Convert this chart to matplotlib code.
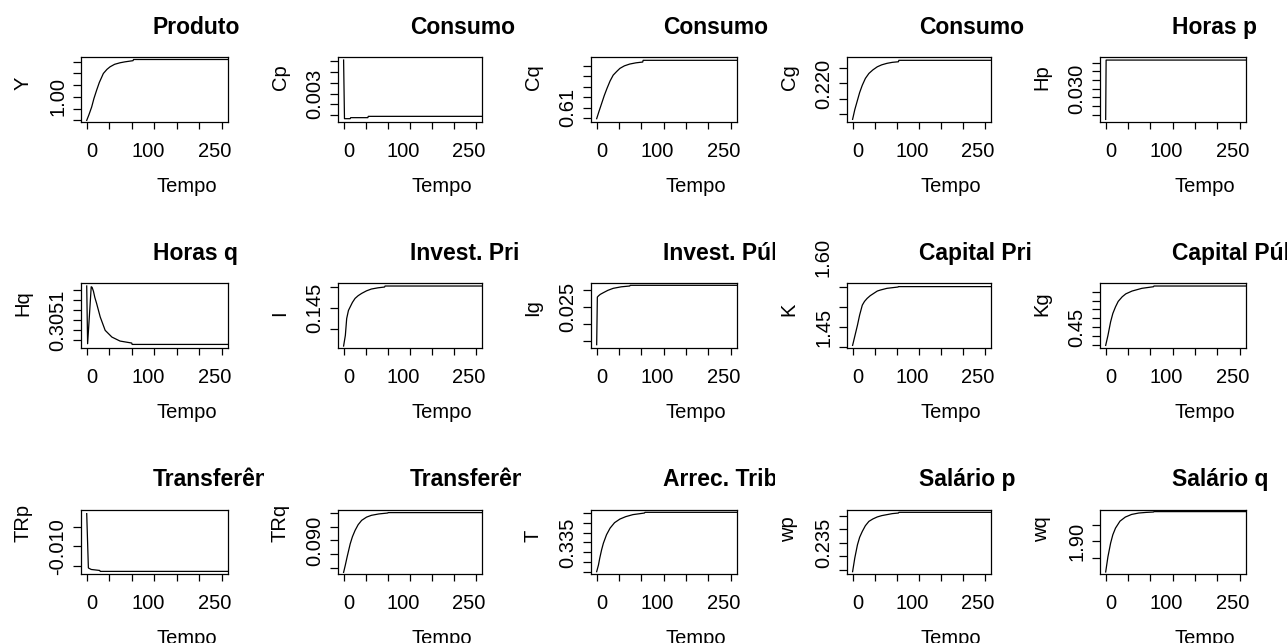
#!/usr/bin/env python3
"""plot.py - impulse responses of the model, 3 x 5 grid of small panels (R base-graphics look)."""

import matplotlib
matplotlib.use("Agg")
import matplotlib.pyplot as plt
from matplotlib.transforms import Bbox, TransformedBbox, blended_transform_factory

plt.rcParams["font.family"] = ["Liberation Sans", "DejaVu Sans"]

W, H = 1287, 643

# ── data ─────────────────────────────────────────────────────────────────────
# titles as far as they show in the original (it cuts them at the panel edge)
TITLES = ["Produto", "Consumo", "Consumo", "Consumo", "Horas p",
          "Horas q", "Invest. Pri", "Invest. Púb", "Capital Pri", "Capital Púb",
          "Transferên", "Transferên", "Arrec. Trib", "Salário p", "Salário q"]
YLABELS = ["Y", "Cp", "Cq", "Cg", "Hp",
           "Hq", "I", "Ig", "K", "Kg",
           "TRp", "TRq", "T", "wp", "wq"]

XTICKS = [0, 50, 100, 150, 200, 250, 300]
XLABELS = ["0", "100", "250"]

YTICKS = [
    [0.98, 0.99, 1.00, 1.01, 1.02, 1.03],
    [0.0020, 0.0025, 0.0030, 0.0035, 0.0040, 0.0045],
    [0.605, 0.610, 0.615, 0.620, 0.625, 0.630],
    [0.216, 0.218, 0.220, 0.222],
    [0.027, 0.028, 0.029, 0.030, 0.031, 0.032, 0.033],
    [0.3049, 0.3050, 0.3051, 0.3052, 0.3053, 0.3054],
    [0.140, 0.145, 0.150],
    [0.015, 0.020, 0.025, 0.030],
    [1.40, 1.45, 1.50, 1.55],
    [0.43, 0.44, 0.45, 0.46, 0.47, 0.48, 0.49],
    [-0.015, -0.010, -0.005],
    [0.080, 0.085, 0.090, 0.095, 0.100],
    [0.320, 0.325, 0.330, 0.335, 0.340, 0.345, 0.350],
    [0.225, 0.230, 0.235, 0.240, 0.245],
    [1.85, 1.90, 1.95],
]
YTICK_TEXT = ["1.00", "0.003", "0.61", "0.220", "0.030",
              "0.3051", "0.145", "0.025", "1.45", "0.45",
              "-0.010", "0.090", "0.335", "0.235", "1.90"]
YTICK_IDX = [2, 2, 1, 2, 3, 2, 1, 2, 1, 2, 1, 2, 3, 2, 1]
YLIMS = [
    (0.97889, 1.03377), (0.001708, 0.004671), (0.60327, 0.63404), (0.21493, 0.22347),
    (0.02619, 0.03363), (0.304819, 0.305468), (0.13543, 0.15082), (0.012904, 0.032066),
    (1.3985, 1.5585), (0.42658, 0.49954), (-0.017167, -0.000457), (0.077802, 0.101245),
    (0.31882, 0.35171), (0.22352, 0.24722), (1.80285, 1.99505),
]

# series (Tempo, value)
t_Y = [0, 5, 11, 16, 22, 28, 37, 45, 52, 62, 74, 85, 103, 104, 320]
Y = [0.9800, 0.9849, 0.9914, 0.9986, 1.0057, 1.0123, 1.0200, 1.0235, 1.0257,
     1.0278, 1.0291, 1.0299, 1.0309, 1.0319, 1.0319]
t_Cp = [0, 2, 15, 16, 55, 56, 320]
Cp = [0.004546, 0.001847, 0.001847, 0.001894, 0.001894, 0.001954, 0.001954]
t_Cq = [0, 5, 11, 17, 23, 30, 37, 45, 52, 62, 74, 88, 103, 104, 320]
Cq = [0.60471, 0.60808, 0.61192, 0.61577, 0.61914, 0.62274, 0.62553, 0.62731,
      0.62875, 0.62995, 0.63082, 0.63140, 0.63178, 0.63260, 0.63260]
t_Cg = [0, 5, 11, 16, 22, 29, 37, 46, 56, 66, 78, 90, 104, 105, 320]
Cg = [0.21524, 0.21653, 0.21777, 0.21880, 0.21977, 0.22067, 0.22133, 0.22180,
      0.22221, 0.22247, 0.22267, 0.22280, 0.22288, 0.22307, 0.22307]
t_Hp = [0, 1, 320]
Hp = [0.02645, 0.03331, 0.03331]
t_Hq = [0, 2, 6, 10, 12, 15, 18, 22, 30, 41, 56, 74, 100, 101, 320]
Hq = [0.305441, 0.304859, 0.305143, 0.305433, 0.305427, 0.305387, 0.305326, 0.305265,
      0.305129, 0.304994, 0.304926, 0.304886, 0.304866, 0.304852, 0.304852]
t_I = [0, 4, 7, 11, 15, 20, 26, 33, 41, 52, 63, 78, 93, 94, 320]
I = [0.13582, 0.13839, 0.14240, 0.14433, 0.14519, 0.14625, 0.14721, 0.14786,
     0.14841, 0.14902, 0.14945, 0.14974, 0.14993, 0.15017, 0.15017]
t_Ig = [0, 1.5, 4, 8, 15, 25, 37, 55, 74, 75, 320]
Ig = [0.01380, 0.02796, 0.02832, 0.02877, 0.02928, 0.02997, 0.03057, 0.03102,
      0.03126, 0.03147, 0.03147]
t_K = [0, 11, 16, 22, 27, 33, 40, 48, 56, 63, 78, 103, 104, 320]
K = [1.40425, 1.45425, 1.47975, 1.50425, 1.5135, 1.5210, 1.52775, 1.5335,
     1.53925, 1.54175, 1.5460, 1.54925, 1.55025, 1.55025]
t_Kg = [0, 5, 11, 16, 22, 28, 37, 45, 59, 81, 107, 108, 320]
Kg = [0.4292, 0.44026, 0.45577, 0.46534, 0.47287, 0.47902, 0.48426, 0.48757,
      0.49076, 0.49384, 0.49566, 0.49646, 0.49646]
t_TRp = [0, 3.7, 10, 29, 30, 320]
TRp = [-0.0015, -0.0156, -0.01599, -0.01625, -0.01649, -0.01649]
t_TRq = [0, 4, 8, 15, 20, 26, 33, 41, 52, 63, 80, 100, 101, 320]
TRq = [0.07839, 0.08110, 0.08403, 0.08879, 0.09136, 0.09366, 0.09575, 0.09733,
       0.09850, 0.09916, 0.09967, 0.10000, 0.10015, 0.10015]
t_T = [0, 4, 7, 11, 15, 22, 30, 40, 52, 65, 81, 107, 108, 320]
T = [0.32000, 0.32344, 0.32704, 0.33115, 0.33454, 0.33886, 0.34225, 0.34503,
     0.34688, 0.34811, 0.34914, 0.34996, 0.35032, 0.35032]
t_wp = [0, 5, 11, 16, 22, 29, 37, 46, 56, 66, 78, 90, 104, 105, 320]
wp = [0.22437, 0.22944, 0.23426, 0.23704, 0.23919, 0.24130, 0.24289, 0.24378,
      0.24452, 0.24500, 0.24537, 0.24574, 0.24596, 0.24622, 0.24622]
t_wq = [0, 5, 11, 16, 22, 32, 44, 58, 74, 90, 107, 108, 320]
wq = [1.80886, 1.85390, 1.89474, 1.91997, 1.93979, 1.96051, 1.97282, 1.98063,
      1.98484, 1.98664, 1.98784, 1.98904, 1.98904]

SERIES = [(t_Y, Y), (t_Cp, Cp), (t_Cq, Cq), (t_Cg, Cg), (t_Hp, Hp),
          (t_Hq, Hq), (t_I, I), (t_Ig, Ig), (t_K, K), (t_Kg, Kg),
          (t_TRp, TRp), (t_TRq, TRq), (t_T, T), (t_wp, wp), (t_wq, wq)]

# ── layout (pixels) ──────────────────────────────────────────────────────────
COL_LEFT = [81, 338, 591, 847, 1100]
COL_WIDTH = [147, 144, 146, 144, 146]
CLIP_RIGHT = [183, 183, 184, 184, 200]   # title clip edge, from the box's left side
ROW_TOP = [57.3, 283.3, 509.6]
BOX_H = 64.4
XLIM = (-12.7, 314)
XLABEL_POS = [11, 136, 284]     # the tick texts sit a bit off the ticks
FS = 14.5
FS_TITLE = 16.5

fig = plt.figure(figsize=(W / 100, H / 100), dpi=100)

for i, (t, v) in enumerate(SERIES):
    r, c = divmod(i, 5)
    left, top, w = COL_LEFT[c], ROW_TOP[r], COL_WIDTH[c]
    ax = fig.add_axes([left / W, 1 - (top + BOX_H) / H, w / W, BOX_H / H])
    ax.plot(t, v, color="black", linewidth=0.9)
    ax.set_xlim(XLIM)
    ax.set_ylim(YLIMS[i])
    for sp in ax.spines.values():
        sp.set_linewidth(0.9)

    # x axis: unlabelled ticks + labels on zero-length minor ticks
    ax.set_xticks(XTICKS)
    ax.set_xticklabels([])
    ax.set_xticks(XLABEL_POS, XLABELS, minor=True)
    ax.tick_params(axis="x", which="major", length=5.2, width=0.9, direction="out")
    ax.tick_params(axis="x", which="minor", length=0, pad=14.4, labelsize=FS)

    # y axis: one labelled tick, rotated like R
    labels = [YTICK_TEXT[i] if j == YTICK_IDX[i] else "" for j in range(len(YTICKS[i]))]
    ax.set_yticks(YTICKS[i], labels)
    ax.tick_params(axis="y", length=5.8, width=0.9, direction="out", pad=4,
                   labelsize=FS, labelrotation=90)
    for lab in ax.get_yticklabels():
        lab.set_va("center")

    ax.set_xlabel("Tempo", fontsize=FS)
    ax.xaxis.set_label_coords(0.5 + 32 / w, -55 / BOX_H)
    ax.set_ylabel(YLABELS[i], fontsize=FS)
    ax.yaxis.label.set_ha("left")
    ax.yaxis.set_label_coords(-48.5 / w, 0.5)

    if YLABELS[i] == "K":
        trans = blended_transform_factory(ax.transAxes, ax.transData)
        ax.text(-23.5 / w, 1.623, "1.60", transform=trans, rotation=90,
                ha="center", va="center", fontsize=FS, clip_on=False)

    # title, left-aligned and clipped at the panel's right edge like the original
    ttl = fig.text((left + 72) / W, 1 - (top - 23.5) / H, TITLES[i],
                   fontsize=FS_TITLE, fontweight="bold", ha="left", va="baseline")
    clip = TransformedBbox(Bbox([[0, 0], [(left + CLIP_RIGHT[c]) / W, 1]]), fig.transFigure)
    ttl.set_clip_box(clip)
    ttl.set_clip_on(True)

fig.savefig("out.png", dpi=100)
